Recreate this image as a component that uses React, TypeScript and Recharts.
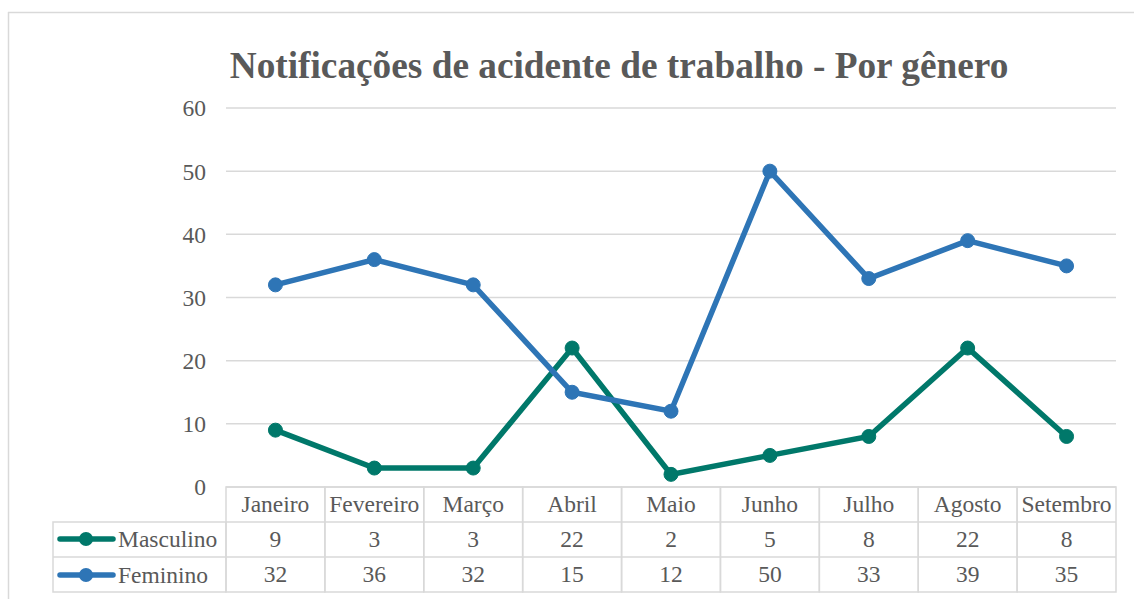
import { CartesianGrid, Line, LineChart, XAxis, YAxis } from "recharts";

const MONTHS = ["Janeiro", "Fevereiro", "Março", "Abril", "Maio", "Junho", "Julho", "Agosto", "Setembro"];
const MASCULINO = [9, 3, 3, 22, 2, 5, 8, 22, 8];
const FEMININO = [32, 36, 32, 15, 12, 50, 33, 39, 35];
const Y_TICKS = [0, 10, 20, 30, 40, 50, 60];

const GREEN = "#00786a";
const BLUE = "#2e75b6";
const TEXT = "#595959";
const GRID = "#d9d9d9";
const FONT = "'Liberation Serif', 'Times New Roman', serif";
const FS = 23.5;

const W = 1134;
const H = 599;
const PLOT_L = 226;
const PLOT_R = 1116;
const PLOT_T = 108;
const PLOT_B = 487;
const TABLE_H = 105;
const HALF = (PLOT_R - PLOT_L) / MONTHS.length / 2;
const ROW = [487, 522, 557, 592];

const rows = MONTHS.map((m, i) => ({ month: m, masculino: MASCULINO[i], feminino: FEMININO[i] }));

// each x tick draws its own column of the data table
function TableTick(props: any) {
  const { x, payload } = props;
  const i = payload.index;
  const l = x - HALF;
  return (
    <g>
      <rect x={l} y={ROW[0]} width={HALF * 2} height={ROW[3] - ROW[0]} fill="none" stroke={GRID} strokeWidth={1.5} />
      <line x1={l} x2={l + HALF * 2} y1={ROW[1]} y2={ROW[1]} stroke={GRID} strokeWidth={1.5} />
      <line x1={l} x2={l + HALF * 2} y1={ROW[2]} y2={ROW[2]} stroke={GRID} strokeWidth={1.5} />
      <text x={x} y={512} textAnchor="middle" fill={TEXT} fontSize={FS} fontFamily={FONT}>{payload.value}</text>
      <text x={x} y={546.5} textAnchor="middle" fill={TEXT} fontSize={FS} fontFamily={FONT}>{MASCULINO[i]}</text>
      <text x={x} y={582} textAnchor="middle" fill={TEXT} fontSize={FS} fontFamily={FONT}>{FEMININO[i]}</text>
    </g>
  );
}

function LegendCell({ y, color, label }: { y: number; color: string; label: string }) {
  return (
    <g>
      <line x1={60} x2={113} y1={y} y2={y} stroke={color} strokeWidth={5.5} strokeLinecap="round" />
      <circle cx={86} cy={y} r={7} fill={color} />
      <text x={118} y={y + 7.5} fill={TEXT} fontSize={FS} fontFamily={FONT}>{label}</text>
    </g>
  );
}

export default function App() {
  return (
    <div style={{ position: "absolute", left: 0, top: 0, width: W, height: H, background: "#fff" }}>
      <svg width={W} height={H} style={{ position: "absolute", left: 0, top: 0 }}>
        <line x1={8} x2={W} y1={12.5} y2={12.5} stroke={GRID} strokeWidth={1.5} />
        <line x1={8.5} x2={8.5} y1={12} y2={H} stroke={GRID} strokeWidth={1.5} />
        <text x={619} y={78} textAnchor="middle" fill={TEXT} fontSize={37.3} fontWeight="bold" fontFamily={FONT}>
          Notificações de acidente de trabalho - Por gênero
        </text>
        <rect x={53} y={ROW[1]} width={PLOT_L - 53} height={ROW[3] - ROW[1]} fill="none" stroke={GRID} strokeWidth={1.5} />
        <line x1={53} x2={PLOT_L} y1={ROW[2]} y2={ROW[2]} stroke={GRID} strokeWidth={1.5} />
        <LegendCell y={539} color={GREEN} label="Masculino" />
        <LegendCell y={575} color={BLUE} label="Feminino" />
      </svg>
      <div style={{ position: "absolute", left: 0, top: 0 }}>
        <LineChart
          width={W}
          height={H}
          data={rows}
          margin={{ left: PLOT_L - 60, right: W - PLOT_R, top: PLOT_T, bottom: H - PLOT_B - TABLE_H }}
        >
          <CartesianGrid vertical={false} stroke={GRID} strokeWidth={1.5} />
          <XAxis
            dataKey="month"
            height={TABLE_H}
            axisLine={false}
            tickLine={false}
            interval={0}
            padding={{ left: HALF, right: HALF }}
            tick={<TableTick />}
          />
          <YAxis
            width={60}
            domain={[0, 60]}
            ticks={Y_TICKS}
            axisLine={false}
            tickLine={false}
            tickSize={0}
            tickMargin={20}
            tick={{ fill: TEXT, fontSize: FS, fontFamily: FONT }}
          />
          <Line
            dataKey="masculino"
            stroke={GREEN}
            strokeWidth={5.5}
            dot={{ r: 7, fill: GREEN, stroke: GREEN, strokeWidth: 1 }}
            isAnimationActive={false}
          />
          <Line
            dataKey="feminino"
            stroke={BLUE}
            strokeWidth={5.5}
            dot={{ r: 7, fill: BLUE, stroke: BLUE, strokeWidth: 1 }}
            isAnimationActive={false}
          />
        </LineChart>
      </div>
    </div>
  );
}
